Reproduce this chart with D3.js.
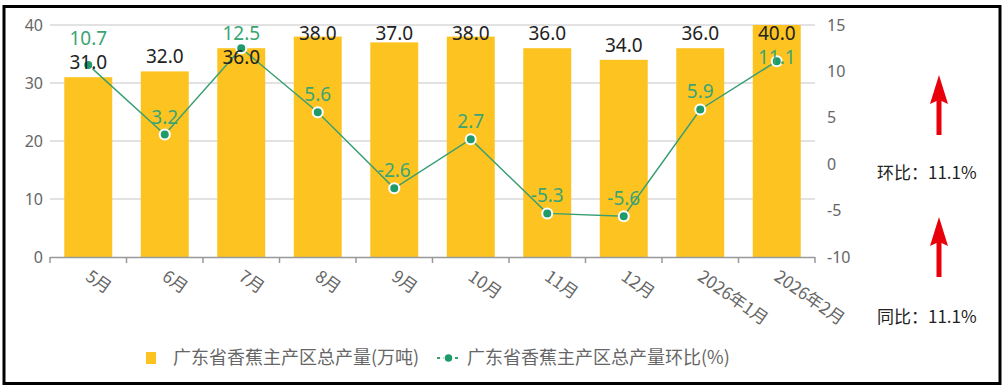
<!DOCTYPE html>
<meta charset="utf-8">
<style>
    body { margin: 0; background: #fff; }
    text { font-family: "Noto Sans", "Noto Sans CJK SC", sans-serif; }
    .cjk { font-family: "Noto Sans CJK SC", "Noto Sans", sans-serif; }
</style>
<body>
<div id="main"></div>
<script src="https://cdn.jsdelivr.net/npm/d3@7/dist/d3.min.js"></script>
<script>
// chart data
var months = ["5月", "6月", "7月", "8月", "9月", "10月", "11月", "12月", "2026年1月", "2026年2月"];
var output = [31.0, 32.0, 36.0, 38.0, 37.0, 38.0, 36.0, 34.0, 36.0, 40.0];
var momPct = [10.7, 3.2, 12.5, 5.6, -2.6, 2.7, -5.3, -5.6, 5.9, 11.1];
var leftTicks = [0, 10, 20, 30, 40];
var rightTicks = [-10, -5, 0, 5, 10, 15];
var legendNames = ["广东省香蕉主产区总产量(万吨)", "广东省香蕉主产区总产量环比(%)"];
var notes = ["环比：11.1%", "同比：11.1%"];

var W = 1006, H = 390;
var plot = {left: 50, right: 815, top: 25, bottom: 257};
var barColor = "#fdc421", lineColor = "#3a9e73", dotColor = "#1f9a6b", greenText = "#3aa574";

var svg = d3.select("#main").append("svg")
    .attr("width", W).attr("height", H);

// frame
svg.append("rect")
    .attr("x", 4).attr("y", 6.5).attr("width", 996).attr("height", 377)
    .attr("fill", "#fff").attr("stroke", "#000").attr("stroke-width", 3);

var x = d3.scaleBand().domain(months)
    .range([plot.left, plot.right])
    .paddingInner(0.373).paddingOuter(0.1865);
var yL = d3.scaleLinear().domain([0, 40]).range([plot.bottom, plot.top]);
var yR = d3.scaleLinear().domain([-10, 15]).range([plot.bottom, plot.top]);
var step = x.step();

// grid
svg.append("g").selectAll("line").data(leftTicks.slice(1)).join("line")
    .attr("x1", plot.left).attr("x2", plot.right)
    .attr("y1", function(d) { return yL(d); }).attr("y2", function(d) { return yL(d); })
    .attr("stroke", "#d9d9d9").attr("stroke-width", 1.5);

// left axis labels
svg.append("g").selectAll("text").data(leftTicks).join("text")
    .attr("x", 43).attr("y", function(d) { return yL(d); })
    .attr("dy", "0.35em").attr("text-anchor", "end")
    .attr("font-size", 16).attr("fill", "#666")
    .text(function(d) { return d; });

// right axis labels
svg.append("g").selectAll("text").data(rightTicks).join("text")
    .attr("x", 827).attr("y", function(d) { return yR(d); })
    .attr("dy", "0.35em").attr("text-anchor", "start")
    .attr("font-size", 16).attr("fill", "#666")
    .text(function(d) { return d; });

// bars
svg.append("g").selectAll("rect").data(output).join("rect")
    .attr("x", function(d, i) { return x(months[i]); })
    .attr("width", x.bandwidth())
    .attr("y", function(d) { return yL(d); })
    .attr("height", function(d) { return yL(0) - yL(d); })
    .attr("fill", barColor);

// x axis
var xa = svg.append("g");
xa.append("line")
    .attr("x1", plot.left).attr("x2", plot.right)
    .attr("y1", plot.bottom + 0.5).attr("y2", plot.bottom + 0.5)
    .attr("stroke", "#999").attr("stroke-width", 1.5);
xa.selectAll("line.tk").data(d3.range(months.length + 1)).join("line")
    .attr("class", "tk")
    .attr("x1", function(i) { return plot.left + i * step; })
    .attr("x2", function(i) { return plot.left + i * step; })
    .attr("y1", plot.bottom).attr("y2", plot.bottom + 6)
    .attr("stroke", "#999").attr("stroke-width", 1.5);
xa.selectAll("text").data(months).join("text")
    .attr("class", "cjk")
    .attr("transform", function(d) {
        return "translate(" + (x(d) + x.bandwidth() / 2 + 4) + "," + 268 + ") rotate(35)";
    })
    .attr("dy", "0.8em").attr("font-size", 17).attr("fill", "#666")
    .text(function(d) { return d; });

// line
var line = d3.line()
    .x(function(d, i) { return x(months[i]) + x.bandwidth() / 2; })
    .y(function(d) { return yR(d); });
svg.append("path").datum(momPct)
    .attr("d", line).attr("fill", "none")
    .attr("stroke", lineColor).attr("stroke-width", 1.5);
svg.append("g").selectAll("circle").data(momPct).join("circle")
    .attr("cx", function(d, i) { return x(months[i]) + x.bandwidth() / 2; })
    .attr("cy", function(d) { return yR(d); })
    .attr("r", 5).attr("fill", dotColor)
    .attr("stroke", "#fff").attr("stroke-width", 2);

// label layout: keep inside top, push overlapping labels apart
var minBase = 40, gap = 24;
var labels = output.map(function(v, i) {
    var b = Math.max(yL(v) - 8, minBase);
    var g = Math.max(yR(momPct[i]) - 11, minBase);
    if (Math.abs(b - g) < 16) {
        if (g <= b) {
            if (b - gap >= minBase) g = b - gap; else b = g + gap;
        } else {
            if (g - gap >= minBase) b = g - gap; else g = b + gap;
        }
    }
    return {bar: b, green: g};
});

svg.append("g").selectAll("text").data(output).join("text")
    .attr("x", function(d, i) { return x(months[i]) + x.bandwidth() / 2; })
    .attr("y", function(d, i) { return labels[i].bar; })
    .attr("text-anchor", "middle").attr("font-size", 19).attr("fill", "#222")
    .text(function(d) { return d.toFixed(1); });

svg.append("g").selectAll("text").data(momPct).join("text")
    .attr("x", function(d, i) { return x(months[i]) + x.bandwidth() / 2; })
    .attr("y", function(d, i) { return labels[i].green; })
    .attr("text-anchor", "middle").attr("font-size", 19).attr("fill", greenText)
    .text(function(d) { return d.toFixed(1); });

// legend
var lg = svg.append("g");
lg.append("rect").attr("x", 146).attr("y", 352).attr("width", 10).attr("height", 12).attr("fill", barColor);
lg.append("text").attr("class", "cjk").attr("x", 173).attr("y", 358).attr("dy", "0.35em")
    .attr("font-size", 18).attr("fill", "#666").text(legendNames[0]);
lg.append("line").attr("x1", 437).attr("x2", 460).attr("y1", 358).attr("y2", 358)
    .attr("stroke", lineColor).attr("stroke-width", 2).attr("stroke-dasharray", "3,3");
lg.append("circle").attr("cx", 448.5).attr("cy", 358).attr("r", 4.5).attr("fill", dotColor)
    .attr("stroke", "#fff").attr("stroke-width", 1.5);
lg.append("text").attr("class", "cjk").attr("x", 467).attr("y", 358).attr("dy", "0.35em")
    .attr("font-size", 18).attr("fill", "#666").text(legendNames[1]);

// side notes with arrows
var arrowX = 939, arrowTops = [75, 217];
function arrow(top) {
    return "M" + arrowX + "," + top +
        "L" + (arrowX + 9) + "," + (top + 29) +
        "L" + (arrowX + 2.5) + "," + (top + 26) +
        "L" + (arrowX + 2.5) + "," + (top + 60) +
        "L" + (arrowX - 2.5) + "," + (top + 60) +
        "L" + (arrowX - 2.5) + "," + (top + 26) +
        "L" + (arrowX - 9) + "," + (top + 29) + "Z";
}
svg.append("g").selectAll("path").data(arrowTops).join("path")
    .attr("d", arrow).attr("fill", "#e8000b");
svg.append("g").selectAll("text").data(notes).join("text")
    .attr("class", "cjk")
    .attr("x", 877).attr("y", function(d, i) { return [173, 317][i]; })
    .attr("dy", "0.35em").attr("font-size", 17).attr("fill", "#222")
    .text(function(d) { return d; });
</script>
</body>
